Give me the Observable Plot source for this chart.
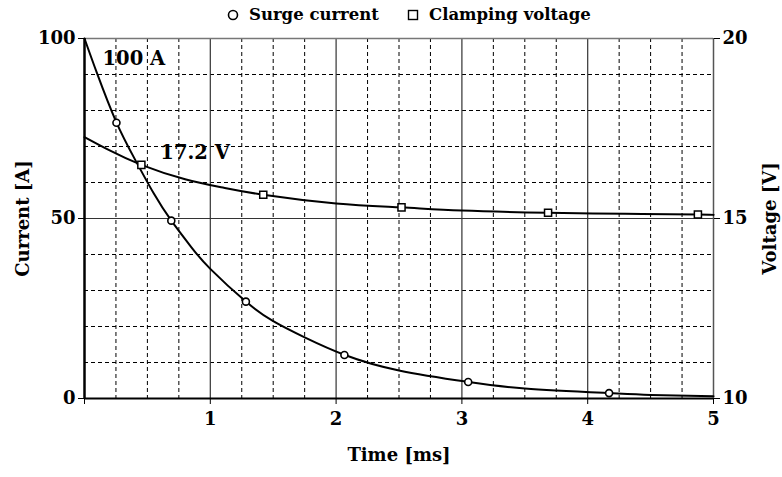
<!DOCTYPE html>
<html>
<head>
<meta charset="utf-8">
<script src="https://cdn.jsdelivr.net/npm/d3@7"></script>
<script src="https://cdn.jsdelivr.net/npm/@observablehq/plot@0.6"></script>
<style>
  body { margin: 0; background: #fff; }
  #wrap { position: relative; width: 782px; height: 477px; }
  #legend { position: absolute; top: 5px; left: 0; width: 782px; font-family: "DejaVu Serif", serif; font-weight: bold; font-size: 16.5px; color: #000; }
  .item { position: absolute; top: 0; white-space: nowrap; }
  .item svg { vertical-align: -1px; margin-right: 10px; }
</style>
</head>
<body>
<div id="wrap">
  <div id="legend">
    <span class="item" style="left:227px"><svg width="12" height="12"><circle cx="6" cy="6" r="4.5" fill="#fff" stroke="#000" stroke-width="1.6"/></svg>Surge current</span>
    <span class="item" style="left:407px"><svg width="12" height="12"><rect x="1.5" y="1.5" width="9" height="9" fill="#fff" stroke="#000" stroke-width="1.4"/></svg>Clamping voltage</span>
  </div>
</div>
<script>
// Surge current [A] vs time [ms]
const currentTime  = [0, 0.1, 0.25, 0.4, 0.55, 0.69, 0.85, 1.0, 1.28, 1.5, 1.75, 2.07, 2.5, 3.05, 3.5, 4.17, 4.5, 5.0];
const currentValue = [100, 90.3, 77, 66.5, 57, 49.4, 42, 36, 27, 21.5, 17, 12.1, 7.8, 4.6, 2.8, 1.5, 1.0, 0.6];
const currentMarkerTime  = [0.254, 0.69, 1.283, 2.066, 3.05, 4.17];
const currentMarkerValue = [76.6, 49.4, 26.9, 12.1, 4.6, 1.5];

// Clamping voltage [V] vs time [ms]
const voltageTime  = [0, 0.2, 0.452, 0.8, 1.1, 1.421, 2.0, 2.52, 3.0, 3.685, 4.3, 4.876, 5.0];
const voltageValue = [17.26, 16.89, 16.49, 16.09, 15.86, 15.66, 15.42, 15.31, 15.22, 15.16, 15.13, 15.11, 15.1];
const voltageMarkerTime  = [0.452, 1.421, 2.52, 3.685, 4.876];
const voltageMarkerValue = [16.49, 15.66, 15.31, 15.16, 15.11];

const xTicks = [0, 1, 2, 3, 4, 5];
const xTickLabels = ["", "1", "2", "3", "4", "5"];
const yTicks = [0, 50, 100];
const y2TickLabels = ["10", "15", "20"];
const xMinor = [0.25, 0.5, 0.75, 1.25, 1.5, 1.75, 2.25, 2.5, 2.75, 3.25, 3.5, 3.75, 4.25, 4.5, 4.75];
const yMinor = [10, 20, 30, 40, 60, 70, 80, 90];
const xMajor = [1, 2, 3, 4];
const annotations = [
  {t: 0.143, v: 94.5, label: "100 A"},
  {t: 0.603, v: 68.3, label: "17.2 V"}
];

// voltage on right axis: 10 V -> 0, 20 V -> 100
const vToY = v => (v - 10) * 10;
const currentData = currentTime.map((t, i) => ({t, v: currentValue[i]}));
const currentMarks = currentMarkerTime.map((t, i) => ({t, v: currentMarkerValue[i]}));
const voltageData = voltageTime.map((t, i) => ({t, v: vToY(voltageValue[i])}));
const voltageMarks = voltageMarkerTime.map((t, i) => ({t, v: vToY(voltageMarkerValue[i])}));

const font = {fontSize: 18, fontWeight: "bold"};

const chart = Plot.plot({
  width: 782,
  height: 477,
  marginLeft: 84,
  marginRight: 69,
  marginTop: 38,
  marginBottom: 79,
  style: {fontFamily: "DejaVu Serif, serif", color: "#000", background: "#fff"},
  x: {domain: [0, 5]},
  y: {domain: [0, 100]},
  marks: [
    Plot.ruleX(xMinor, {stroke: "#000", strokeWidth: 1, strokeDasharray: "4,3"}),
    Plot.ruleY(yMinor, {stroke: "#000", strokeWidth: 1, strokeDasharray: "4,3"}),
    Plot.ruleX(xMajor, {stroke: "#333", strokeWidth: 1.2}),
    Plot.ruleY([50], {stroke: "#333", strokeWidth: 1.2}),
    Plot.ruleY([100], {stroke: "#777", strokeWidth: 1.5}),
    Plot.ruleX([5], {stroke: "#555", strokeWidth: 1.5}),
    Plot.ruleX([0], {stroke: "#000", strokeWidth: 2.5}),
    Plot.ruleY([0], {stroke: "#000", strokeWidth: 2}),
    Plot.axisX({ticks: xTicks, tickFormat: d => xTickLabels[xTicks.indexOf(d)], tickSize: 6, tickPadding: 8, ...font,
      label: "Time [ms]", labelAnchor: "center", labelArrow: "none", labelOffset: 62}),
    Plot.axisY({anchor: "left", ticks: yTicks, tickSize: 6, tickPadding: 3, ...font,
      label: "Current [A]", labelAnchor: "center", labelArrow: "none", labelOffset: 68}),
    Plot.axisY({anchor: "right", ticks: yTicks, tickFormat: d => y2TickLabels[yTicks.indexOf(d)], tickSize: 6, tickPadding: 3, ...font,
      label: "Voltage [V]", labelAnchor: "center", labelArrow: "none", labelOffset: 62}),
    Plot.line(currentData, {x: "t", y: "v", curve: "natural", stroke: "#000", strokeWidth: 2}),
    Plot.line(voltageData, {x: "t", y: "v", curve: "natural", stroke: "#000", strokeWidth: 2}),
    Plot.dot(currentMarks, {x: "t", y: "v", r: 3.5, fill: "#fff", stroke: "#000", strokeWidth: 1.6}),
    Plot.dot(voltageMarks, {x: "t", y: "v", symbol: "square", r: 4, fill: "#fff", stroke: "#000", strokeWidth: 1.5}),
    Plot.text(annotations, {x: "t", y: "v", text: "label", textAnchor: "start", fontSize: 19.5, fontWeight: "bold", fill: "#000"})
  ]
});
document.getElementById("wrap").prepend(chart);
chart.style.position = "absolute";
chart.style.left = "0";
chart.style.top = "0";
</script>
</body>
</html>
